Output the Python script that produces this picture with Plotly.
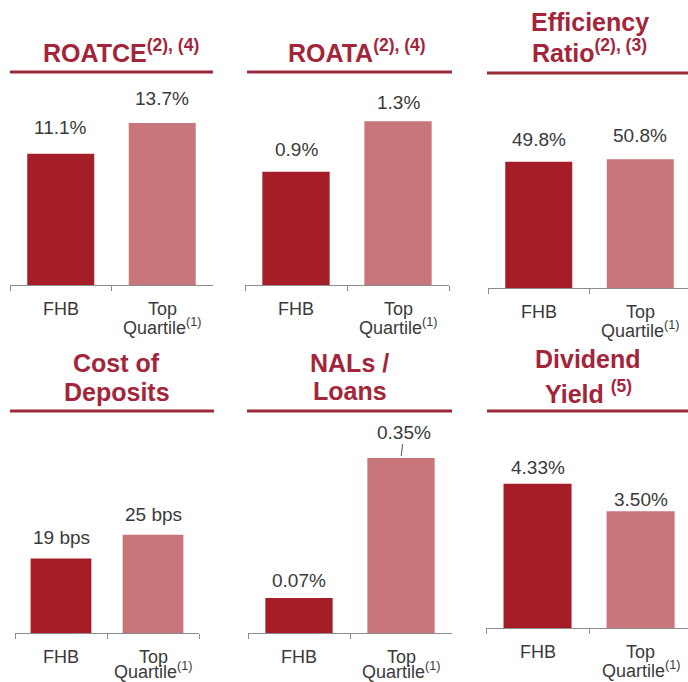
import plotly.graph_objects as go

W, H = 688, 682

# ---------------- data ----------------
categories = ["FHB", "Top Quartile"]
roatce = [11.1, 13.7]
roata = [0.9, 1.3]
efficiency_ratio = [49.8, 50.8]
cost_of_deposits = [19, 25]
nals_loans = [0.07, 0.35]
dividend_yield = [4.33, 3.50]

titles = [
    ["ROATCE<sup>(2), (4)</sup>"],
    ["ROATA<sup>(2), (4)</sup>"],
    ["Efficiency", "Ratio<sup>(2), (3)</sup>"],
    ["Cost of", "Deposits"],
    ["NALs /", "Loans"],
    ["Dividend", "Yield <sup>(5)</sup>"],
]
tick_line1 = ["FHB", "Top"]
tick_line2 = ["", "Quartile<sup>(1)</sup>"]

def pct1(v):
    return f"{v:.1f}%"

def pct2(v):
    return f"{v:.2f}%"

def bps(v):
    return f"{v} bps"

series = [
    (roatce, pct1),
    (roata, pct1),
    (efficiency_ratio, pct1),
    (cost_of_deposits, bps),
    (nals_loans, pct2),
    (dividend_yield, pct2),
]

# ---------------- layout / style (pixels) ----------------
panels = [
    dict(x0=10, x1=213, xmax=1.5, base=285, top=90, ymax=16.5, line_y=72, lx0=10, lx1=213,
         tcx=[121], tcy=[50.5], gaps=[19, 17]),
    dict(x0=245, x1=449, xmax=1.5, base=285, top=90, ymax=1.548, line_y=72, lx0=247, lx1=452,
         tcx=[357], tcy=[50.5], gaps=[15, 11]),
    dict(x0=488, x1=688, xmax=1.47, base=288, top=90, ymax=78.1, line_y=73, lx0=487, lx1=688,
         tcx=[590, 589], tcy=[22.5, 51], gaps=[15, 16]),
    dict(x0=15, x1=199, xmax=1.5, base=633, top=430, ymax=51.7, line_y=411, lx0=10, lx1=214,
         tcx=[116, 117], tcy=[362.5, 391.5], gaps=[13, 13]),
    dict(x0=248, x1=452, xmax=1.5, base=633, top=430, ymax=0.406, line_y=411, lx0=247, lx1=452,
         tcx=[349, 350], tcy=[362.5, 391], gaps=[10, None]),
    dict(x0=486, x1=688, xmax=1.46, base=628, top=430, ymax=5.94, line_y=411, lx0=487, lx1=688,
         tcx=[588, 588], tcy=[359, 391.5], gaps=[9, 4]),
]

DARK = "#A51D27"
PINK = "#C8757B"
TITLE_COLOR = "#A3253A"
RULE_COLOR = "#9A2A3A"
TEXT_COLOR = "#3A3A3A"
AXIS_COLOR = "#8C8C8C"
FONT = "Liberation Sans, Arial, sans-serif"

def px(x):
    return x / W

def py(y):
    return 1 - y / H

fig = go.Figure()
annotations = []
shapes = []
layout = dict(
    width=W, height=H, margin=dict(l=0, r=0, t=0, b=0),
    paper_bgcolor="white", plot_bgcolor="white", showlegend=False,
    font=dict(family=FONT, color=TEXT_COLOR),
)

for i, (p, (vals, fmt)) in enumerate(zip(panels, series)):
    n = i + 1
    xa = "x" if n == 1 else f"x{n}"
    ya = "y" if n == 1 else f"y{n}"
    xkey = "xaxis" if n == 1 else f"xaxis{n}"
    ykey = "yaxis" if n == 1 else f"yaxis{n}"

    fig.add_trace(go.Bar(
        x=categories, y=vals, marker=dict(color=[DARK, PINK], line=dict(width=0)),
        width=0.66, xaxis=xa, yaxis=ya, hoverinfo="skip",
    ))
    layout[xkey] = dict(
        domain=[px(p["x0"]), px(p["x1"])], anchor=ya, type="category",
        categoryorder="array", categoryarray=categories,
        range=[-0.5, p["xmax"]], showline=True, linecolor=AXIS_COLOR, linewidth=1,
        ticks="outside", tickson="boundaries", ticklen=5, tickcolor=AXIS_COLOR,
        tickwidth=1, showticklabels=False, showgrid=False, zeroline=False, fixedrange=True,
    )
    layout[ykey] = dict(
        domain=[py(p["base"]), py(p["top"])], anchor=xa, range=[0, p["ymax"]],
        visible=False, fixedrange=True,
    )

    # title rule
    shapes.append(dict(type="line", xref="paper", yref="paper",
                       x0=px(p["lx0"]), x1=px(p["lx1"]),
                       y0=py(p["line_y"]), y1=py(p["line_y"]),
                       line=dict(color=RULE_COLOR, width=3)))
    # titles
    for t, cx, cy in zip(titles[i], p["tcx"], p["tcy"]):
        annotations.append(dict(
            text=f"<b>{t}</b>", xref="paper", yref="paper", x=px(cx), y=py(cy),
            xanchor="center", yanchor="middle", showarrow=False,
            font=dict(family=FONT, size=25, color=TITLE_COLOR),
        ))
    # category labels
    for c, l1, l2 in zip(categories, tick_line1, tick_line2):
        annotations.append(dict(
            text=l1, xref=xa, yref="paper", x=c, y=py(p["base"] + 24),
            xanchor="center", yanchor="middle", showarrow=False,
            font=dict(family=FONT, size=18, color=TEXT_COLOR),
        ))
        if l2:
            annotations.append(dict(
                text=l2, xref=xa, yref="paper", x=c, y=py(min(p["base"] + 41, 670)),
                xanchor="center", yanchor="middle", showarrow=False,
                font=dict(family=FONT, size=18, color=TEXT_COLOR),
            ))
    # value labels
    for c, v, g in zip(categories, vals, p["gaps"]):
        if g is None:
            annotations.append(dict(
                text=fmt(v), xref=xa, yref=ya, x=c, y=v,
                showarrow=True, arrowhead=0, arrowwidth=1, arrowcolor="#555555",
                ax=3, ay=-26, standoff=2,
                font=dict(family=FONT, size=19, color=TEXT_COLOR),
            ))
        else:
            annotations.append(dict(
                text=fmt(v), xref=xa, yref=ya, x=c, y=v,
                xanchor="center", yanchor="bottom", yshift=g - 5, showarrow=False,
                font=dict(family=FONT, size=19, color=TEXT_COLOR),
            ))

layout["annotations"] = annotations
layout["shapes"] = shapes
fig.update_layout(**layout)
fig.write_html(
    "out.html",
    config={"displayModeBar": False},
    post_script="document.body.style.margin='0';document.body.style.padding='0';",
)
